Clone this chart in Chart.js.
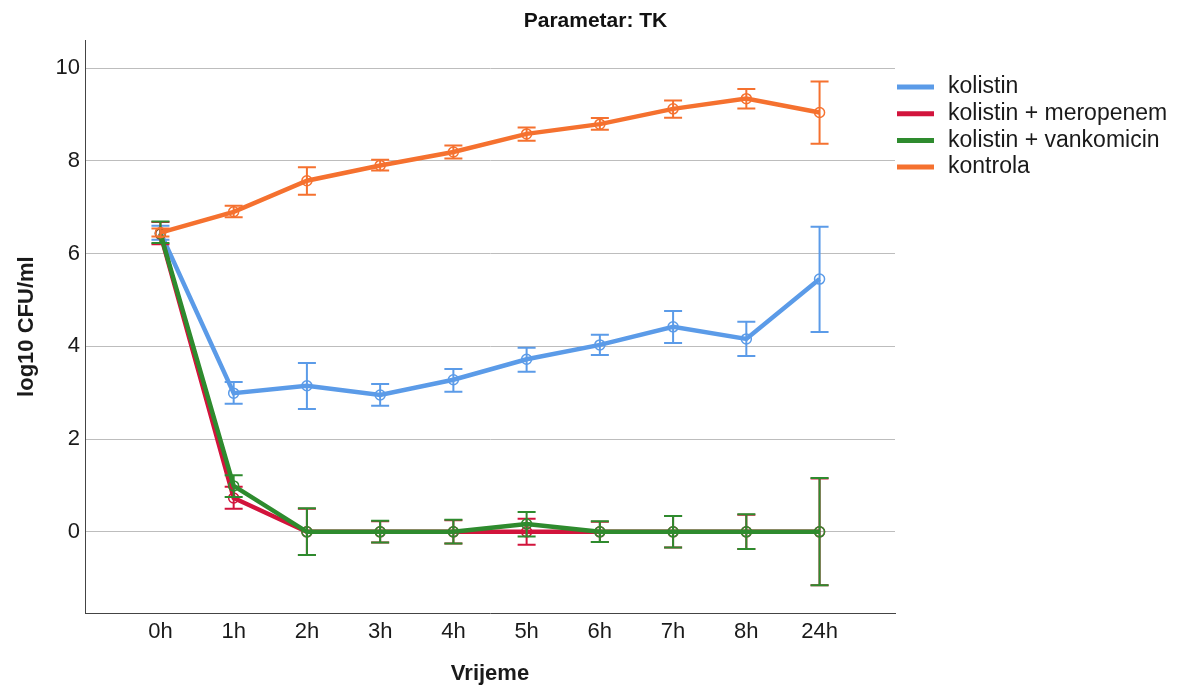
<!DOCTYPE html>
<html><head><meta charset="utf-8">
<script src="https://cdn.jsdelivr.net/npm/chart.js@4.4.1/dist/chart.umd.min.js"></script>
<style>html,body{margin:0;padding:0;background:#fff;}</style>
</head><body>
<canvas id="c" width="1177" height="688"></canvas>
<script>
const categories = ['0h','1h','2h','3h','4h','5h','6h','7h','8h','24h'];
const yTicks = [0, 2, 4, 6, 8, 10];

const seriesNames = ['kolistin', 'kolistin + meropenem', 'kolistin + vankomicin', 'kontrola'];

const kolistin     = [6.45, 2.99, 3.15, 2.95, 3.28, 3.72, 4.03, 4.42, 4.16, 5.45];
const kolistinLow  = [6.30, 2.76, 2.65, 2.72, 3.02, 3.45, 3.81, 4.07, 3.79, 4.31];
const kolistinHigh = [6.60, 3.23, 3.64, 3.19, 3.51, 3.97, 4.25, 4.76, 4.53, 6.58];

const meropenem     = [6.42, 0.73, 0, 0, 0, 0, 0, 0, 0, 0];
const meropenemLow  = [6.20, 0.50, -0.50, -0.23, -0.25, -0.28, -0.22, -0.34, -0.37, -1.15];
const meropenemHigh = [6.68, 0.97, 0.50, 0.23, 0.25, 0.28, 0.22, 0.34, 0.37, 1.15];

const vankomicin     = [6.43, 0.99, 0, 0, 0, 0.17, 0, 0, 0, 0];
const vankomicinLow  = [6.23, 0.75, -0.50, -0.23, -0.25, -0.10, -0.22, -0.34, -0.37, -1.15];
const vankomicinHigh = [6.69, 1.22, 0.51, 0.24, 0.26, 0.43, 0.23, 0.34, 0.38, 1.16];

const kontrola     = [6.45, 6.90, 7.57, 7.90, 8.19, 8.58, 8.79, 9.12, 9.34, 9.04];
const kontrolaLow  = [6.37, 6.78, 7.27, 7.79, 8.05, 8.43, 8.67, 8.93, 9.13, 8.37];
const kontrolaHigh = [6.54, 7.03, 7.86, 8.02, 8.33, 8.72, 8.92, 9.30, 9.55, 9.71];

const colors = ['#5b9be8', '#d2143c', '#2e8b2e', '#f5712f'];

const FONT = "'Liberation Sans', Arial, sans-serif";

function pts(vals) { return vals.map((v, i) => ({x: i, y: v})); }

function mkDs(label, vals, low, high, color, order) {
  return {
    label, data: pts(vals), errLow: low, errHigh: high,
    borderColor: color, backgroundColor: color, borderWidth: 4.5,
    pointRadius: 5, pointBorderWidth: 1.5, pointBorderColor: color,
    pointBackgroundColor: 'rgba(0,0,0,0)', pointHoverRadius: 5,
    tension: 0, fill: false, order, yAxisID: 'y'
  };
}

const errorBars = {
  id: 'errorBars',
  afterDatasetDraw(chart, args) {
    const ds = chart.data.datasets[args.index];
    const xs = chart.scales.x, ys = chart.scales.y;
    const ctx = chart.ctx;
    ctx.save();
    ctx.strokeStyle = ds.borderColor;
    ctx.lineWidth = 2;
    ds.data.forEach((p, i) => {
      const x = xs.getPixelForValue(p.x);
      const yl = ys.getPixelForValue(ds.errLow[i]);
      const yh = ys.getPixelForValue(ds.errHigh[i]);
      ctx.beginPath();
      ctx.moveTo(x, yl); ctx.lineTo(x, yh);
      ctx.moveTo(x - 9, yl); ctx.lineTo(x + 9, yl);
      ctx.moveTo(x - 9, yh); ctx.lineTo(x + 9, yh);
      ctx.stroke();
    });
    ctx.restore();
  }
};

const sideLegend = {
  id: 'sideLegend',
  afterDraw(chart) {
    const ctx = chart.ctx;
    const x0 = chart.chartArea.right + 2;
    ctx.save();
    ctx.font = '23px ' + FONT;
    ctx.textBaseline = 'middle';
    ctx.fillStyle = '#1a1a1a';
    seriesNames.forEach((name, i) => {
      const y = 87 + i * 26.7;
      ctx.strokeStyle = colors[i];
      ctx.lineWidth = 5;
      ctx.beginPath();
      ctx.moveTo(x0, y); ctx.lineTo(x0 + 37, y);
      ctx.stroke();
      ctx.fillText(name, x0 + 51, y);
    });
    ctx.restore();
  }
};

new Chart(document.getElementById('c'), {
  type: 'line',
  data: {
    datasets: [
      mkDs(seriesNames[0], kolistin, kolistinLow, kolistinHigh, colors[0], 3),
      mkDs(seriesNames[1], meropenem, meropenemLow, meropenemHigh, colors[1], 2),
      mkDs(seriesNames[2], vankomicin, vankomicinLow, vankomicinHigh, colors[2], 1),
      mkDs(seriesNames[3], kontrola, kontrolaLow, kontrolaHigh, colors[3], 0)
    ]
  },
  options: {
    responsive: false, animation: false, devicePixelRatio: 1,
    layout: {padding: {left: 14, right: 0, top: 0, bottom: 0}},
    plugins: {
      legend: {display: false},
      tooltip: {enabled: false},
      title: {
        display: true, text: 'Parametar: TK', color: '#111',
        font: {family: FONT, size: 21, weight: 'bold'},
        padding: {top: 9, bottom: 6}
      }
    },
    scales: {
      x: {
        type: 'linear', min: -1.03, max: 10.03,
        afterBuildTicks(s) { s.ticks = categories.map((c, i) => ({value: i})); },
        afterFit(s) { s.height = 75; },
        ticks: {
          color: '#1a1a1a', font: {family: FONT, size: 22}, padding: 6,
          callback: (v) => categories[v] ?? ''
        },
        grid: {display: false, drawTicks: false},
        border: {display: true, color: '#444', width: 1},
        title: {display: true, text: 'Vrijeme', color: '#1a1a1a',
          font: {family: FONT, size: 22, weight: 'bold'}, padding: {top: 0, bottom: 1}}
      },
      y: {
        type: 'linear', min: -1.75, max: 10.6, position: 'left',
        afterBuildTicks(s) { s.ticks = yTicks.map(v => ({value: v})); },
        afterFit(s) { s.width = 71; },
        ticks: {color: '#1a1a1a', font: {family: FONT, size: 22}, padding: 5},
        grid: {color: '#bdbdbd', lineWidth: 1, drawTicks: false},
        border: {display: true, color: '#444', width: 1},
        title: {display: true, text: 'log10 CFU/ml', color: '#1a1a1a',
          font: {family: FONT, size: 22, weight: 'bold'}, padding: {top: 0, bottom: 0}}
      },
      legendSpace: {
        type: 'linear', position: 'right', display: true, min: 0, max: 1,
        afterFit(s) { s.width = 282; },
        ticks: {display: false},
        grid: {display: false, drawTicks: false},
        border: {display: false}
      }
    }
  },
  plugins: [errorBars, sideLegend]
});
</script>
</body></html>
